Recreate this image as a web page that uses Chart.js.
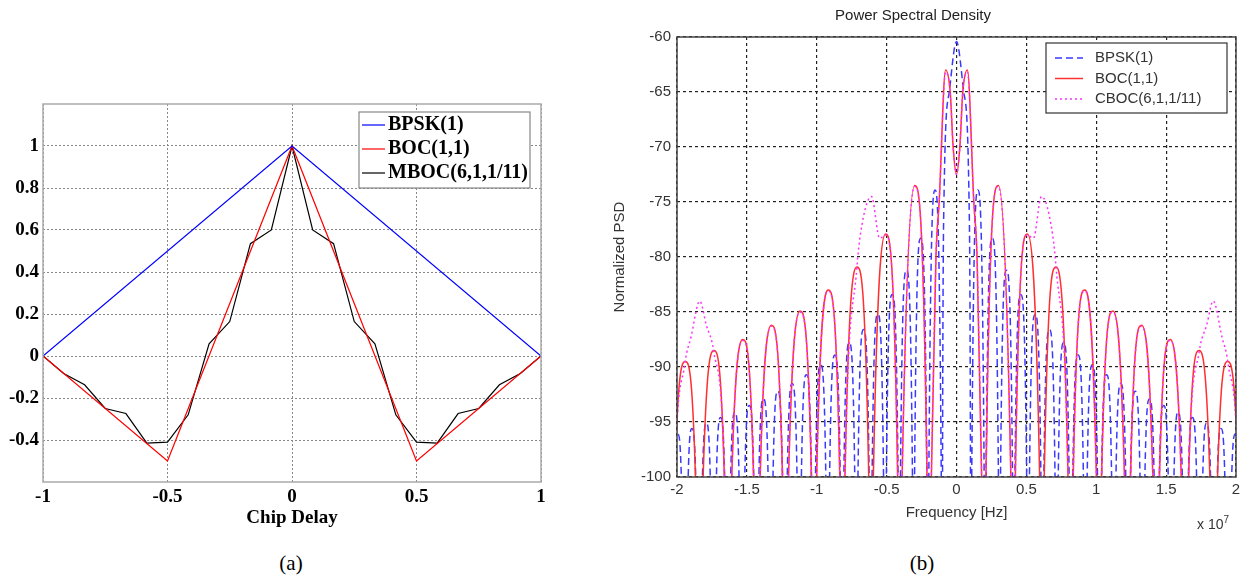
<!DOCTYPE html>
<html>
<head>
<meta charset="utf-8">
<script src="https://cdn.jsdelivr.net/npm/chart.js@4.4.1/dist/chart.umd.min.js"></script>
<style>
  body { margin: 0; background: #fff; width: 1256px; height: 578px; position: relative; overflow: hidden; }
  #acfChart { position: absolute; left: 0; top: 0; }
  #psdChart { position: absolute; left: 590px; top: 0; }
  .caption { position: absolute; top: 551px; width: 60px; text-align: center; line-height: 28px;
             font: 21px "Liberation Serif", "DejaVu Serif", serif; color: #000; }
  #expo { position: absolute; left: 1197px; top: 514px; line-height: 16px;
          font: 14px "Liberation Sans", Arial, sans-serif; color: #333; }
  #expo sup { font-size: 10px; vertical-align: 6px; }
</style>
</head>
<body>
<canvas id="acfChart" width="580" height="540"></canvas>
<canvas id="psdChart" width="666" height="540"></canvas>
<div class="caption" style="left:261px">(a)</div>
<div class="caption" style="left:892px">(b)</div>
<div id="expo">x 10<sup>7</sup></div>

<script>
// ---- (a) autocorrelation ----
const bpskDelay = [-1, 0, 1];
const bpskAcf = [0, 1, 0];

const bocDelay = [-1, -0.5, 0, 0.5, 1];
const bocAcf = [0, -0.5, 1, -0.5, 0];

const mbocDelay = [-1, -0.917, -0.833, -0.75, -0.667, -0.583, -0.5, -0.417, -0.333, -0.25, -0.167, -0.083, 0,
                   0.083, 0.167, 0.25, 0.333, 0.417, 0.5, 0.583, 0.667, 0.75, 0.833, 0.917, 1];
const mbocAcf = [0, -0.083, -0.137, -0.25, -0.274, -0.415, -0.41, -0.28, 0.058, 0.164, 0.535, 0.6, 1,
                 0.6, 0.535, 0.164, 0.058, -0.28, -0.41, -0.415, -0.274, -0.25, -0.137, -0.083, 0];

const acfXTicks = [-1, -0.5, 0, 0.5, 1];
const acfYTicks = [-0.4, -0.2, 0, 0.2, 0.4, 0.6, 0.8, 1];

// ---- (b) power spectral density ----
// positive half only (x in units of 1e7 Hz), mirrored to negative frequencies below.
// each lobe: foot at the axis floor, peak, foot, then the null (below the axis)
const W = -100;  // lobe meets the bottom of the axis
const N = -120;  // null, out of view

const bpskFreq = [
    0, 0.052, 0.090, 0.100, 0.102,
    0.109, 0.153, 0.198, 0.205,
    0.212, 0.256, 0.300, 0.307,
    0.315, 0.358, 0.401, 0.409,
    0.418, 0.460, 0.502, 0.512,
    0.522, 0.563, 0.604, 0.614,
    0.625, 0.665, 0.705, 0.716,
    0.728, 0.767, 0.806, 0.818,
    0.832, 0.870, 0.908, 0.921,
    0.935, 0.972, 1.009, 1.023,
    1.038, 1.074, 1.110, 1.125,
    1.141, 1.176, 1.211, 1.228,
    1.245, 1.279, 1.313, 1.330,
    1.348, 1.381, 1.414, 1.432,
    1.451, 1.483, 1.515, 1.535,
    1.556, 1.586, 1.616, 1.637,
    1.659, 1.688, 1.718, 1.739,
    1.762, 1.790, 1.818, 1.842,
    1.866, 1.893, 1.920, 1.944,
    1.969, 1.995, 2.021, 2.046
];
const bpskLevel = [
    -60.4, -65, -75, W, N,
    W, -73.9, W, N,
    W, -78.3, W, N,
    W, -81.2, W, N,
    W, -83.4, W, N,
    W, -85.2, W, N,
    W, -86.6, W, N,
    W, -87.8, W, N,
    W, -88.9, W, N,
    W, -89.8, W, N,
    W, -90.7, W, N,
    W, -91.5, W, N,
    W, -92.2, W, N,
    W, -92.9, W, N,
    W, -93.5, W, N,
    W, -94.1, W, N,
    W, -94.6, W, N,
    W, -95.1, W, N,
    W, -95.6, W, N,
    W, -96.1, W, N
];

const bocFreq = [
    0, 0.024, 0.045, 0.078, 0.124, 0.147, 0.180, 0.205,
    0.211, 0.300, 0.389, 0.409,
    0.421, 0.508, 0.595, 0.614,
    0.628, 0.713, 0.798, 0.818,
    0.835, 0.918, 1.001, 1.023,
    1.038, 1.120, 1.202, 1.228,
    1.245, 1.325, 1.405, 1.432,
    1.452, 1.530, 1.608, 1.637,
    1.661, 1.737, 1.813, 1.842,
    1.868, 1.942, 2.016, 2.046
];
const bocLevel = [
    -72.5, -70, -65, -63.0, -75, -80, W, N,
    W, -73.5, W, N,
    W, -77.9, W, N,
    W, -80.9, W, N,
    W, -83.0, W, N,
    W, -84.9, W, N,
    W, -86.2, W, N,
    W, -87.5, W, N,
    W, -88.5, W, N,
    W, -89.5, W, N
];

const cbocFreq = [
    0, 0.024, 0.045, 0.078, 0.124, 0.147, 0.180, 0.205,
    0.211, 0.300, 0.389, 0.409,
    0.421, 0.508, 0.550, 0.608, 0.665, 0.713, 0.798, 0.818,
    0.835, 0.918, 1.001, 1.023,
    1.038, 1.120, 1.202, 1.228,
    1.245, 1.325, 1.405, 1.432,
    1.452, 1.530, 1.608, 1.637,
    1.661, 1.737, 1.790, 1.837, 1.900, 1.942, 2.016, 2.046
];
const cbocLevel = [
    -72.5, -70, -65, -63.2, -75, -80, W, N,
    W, -73.6, W, N,
    W, -78.0, -78.3, -74.5, -76.3, -81.0, W, N,
    W, -83.1, W, N,
    W, -85.0, W, N,
    W, -86.3, W, N,
    W, -87.6, W, N,
    W, -88.6, -86.2, -84.0, -87.3, -89.6, W, N
];

const psdXTicks = [-2, -1.5, -1, -0.5, 0, 0.5, 1, 1.5, 2];
const psdYTicks = [-100, -95, -90, -85, -80, -75, -70, -65, -60];

const serif = "'Liberation Serif', 'Times New Roman', serif";
const sans = "'Liberation Sans', Arial, sans-serif";

function toPoints(xs, ys) {
    return xs.map((x, i) => ({ x: x, y: ys[i] }));
}

// spectrum is symmetric: build the full range from the positive half
function mirrored(xs, ys) {
    const pts = [];
    for (let i = xs.length - 1; i > 0; i--) pts.push({ x: -xs[i], y: ys[i] });
    xs.forEach((x, i) => pts.push({ x: x, y: ys[i] }));
    return pts;
}

// box around the plot area, drawn over the data
function framePlugin(color, width) {
    return {
        id: 'frame',
        afterDatasetsDraw(chart) {
            const { ctx, chartArea: a } = chart;
            ctx.save();
            ctx.strokeStyle = color;
            ctx.lineWidth = width;
            ctx.strokeRect(a.left, a.top, a.right - a.left, a.bottom - a.top);
            ctx.restore();
        }
    };
}

// matlab-like boxed legend
function boxLegend(cfg) {
    return {
        id: 'boxLegend',
        afterDraw(chart) {
            const ctx = chart.ctx;
            ctx.save();
            ctx.fillStyle = '#fff';
            ctx.fillRect(cfg.x, cfg.y, cfg.w, cfg.h);
            ctx.strokeStyle = cfg.frame;
            ctx.lineWidth = 1.2;
            ctx.strokeRect(cfg.x, cfg.y, cfg.w, cfg.h);
            ctx.font = cfg.font;
            ctx.textBaseline = 'middle';
            chart.data.datasets.forEach((ds, i) => {
                const y = cfg.y + cfg.firstRow + i * cfg.rowGap;
                ctx.strokeStyle = ds.borderColor;
                ctx.lineWidth = ds.borderWidth;
                ctx.setLineDash(ds.borderDash || []);
                ctx.beginPath();
                ctx.moveTo(cfg.x + cfg.line0, y);
                ctx.lineTo(cfg.x + cfg.line1, y);
                ctx.stroke();
                ctx.setLineDash([]);
                ctx.fillStyle = cfg.color;
                ctx.fillText(ds.label, cfg.x + cfg.textX, y);
            });
            ctx.restore();
        }
    };
}

// ---------- chart (a) ----------
new Chart(document.getElementById('acfChart'), {
    type: 'line',
    data: {
        datasets: [
            { label: 'BPSK(1)', data: toPoints(bpskDelay, bpskAcf), borderColor: '#0000ff', borderWidth: 1.2 },
            { label: 'BOC(1,1)', data: toPoints(bocDelay, bocAcf), borderColor: '#ff0000', borderWidth: 1.2 },
            { label: 'MBOC(6,1,1/11)', data: toPoints(mbocDelay, mbocAcf), borderColor: '#000000', borderWidth: 1.2 }
        ]
    },
    options: {
        responsive: false,
        animation: false,
        layout: { padding: { top: 104, right: 39, bottom: 8, left: 0 } },
        elements: { point: { radius: 0 }, line: { tension: 0 } },
        plugins: { legend: { display: false }, tooltip: { enabled: false } },
        scales: {
            x: {
                type: 'linear', min: -1, max: 1,
                afterBuildTicks: s => { s.ticks = acfXTicks.map(v => ({ value: v })); },
                afterFit: s => { s.height = 50; },
                grid: { color: '#888', lineWidth: 1, drawTicks: false },
                border: { display: false, dash: [2, 2] },
                ticks: { padding: 4, color: '#000', font: { family: serif, size: 19, weight: 'bold' },
                         callback: v => String(v), maxRotation: 0 },
                title: { display: true, text: 'Chip Delay', color: '#000', padding: { top: 0, bottom: 3 },
                         font: { family: serif, size: 19, weight: 'bold' } }
            },
            y: {
                type: 'linear', min: -0.6, max: 1.2,
                afterBuildTicks: s => { s.ticks = acfYTicks.map(v => ({ value: v })); },
                afterFit: s => { s.width = 43; },
                grid: { color: '#888', lineWidth: 1, drawTicks: false },
                border: { display: false, dash: [2, 2] },
                ticks: { padding: 4, color: '#000', font: { family: serif, size: 19, weight: 'bold' },
                         callback: v => String(v) }
            }
        }
    },
    plugins: [
        framePlugin('#aaaaaa', 1.5),
        boxLegend({ x: 359, y: 112, w: 171, h: 76, firstRow: 13, rowGap: 24, line0: 3, line1: 26, textX: 29,
                    font: 'bold 20px ' + serif, color: '#000', frame: '#888' })
    ]
});

// ---------- chart (b) ----------
new Chart(document.getElementById('psdChart'), {
    type: 'line',
    data: {
        datasets: [
            { label: 'BPSK(1)', data: mirrored(bpskFreq, bpskLevel), borderColor: '#3a3aff', borderWidth: 1.5,
              borderDash: [7, 4], order: 3 },
            { label: 'BOC(1,1)', data: mirrored(bocFreq, bocLevel), borderColor: '#ff3030', borderWidth: 1.5,
              order: 2 },
            { label: 'CBOC(6,1,1/11)', data: mirrored(cbocFreq, cbocLevel), borderColor: '#ff30ff', borderWidth: 1.5,
              borderDash: [2, 3], order: 1 }
        ]
    },
    options: {
        responsive: false,
        animation: false,
        layout: { padding: { top: 0, right: 20, bottom: 13, left: 0 } },
        elements: { point: { radius: 0 }, line: { cubicInterpolationMode: 'monotone' } },
        plugins: {
            legend: { display: false },
            tooltip: { enabled: false },
            title: { display: true, text: 'Power Spectral Density', color: '#222',
                     font: { family: sans, size: 15, weight: 'normal' }, padding: { top: 7, bottom: 12 } }
        },
        scales: {
            x: {
                type: 'linear', min: -2, max: 2,
                afterBuildTicks: s => { s.ticks = psdXTicks.map(v => ({ value: v })); },
                afterFit: s => { s.height = 50; },
                grid: { color: '#222', lineWidth: 1.2, drawTicks: false },
                border: { display: false, dash: [3, 3] },
                ticks: { padding: 4, color: '#333', font: { family: sans, size: 15 },
                         callback: v => String(v), maxRotation: 0 },
                title: { display: true, text: 'Frequency [Hz]', color: '#333', padding: { top: 0, bottom: 5 },
                         font: { family: sans, size: 15 } }
            },
            y: {
                type: 'linear', min: -100, max: -60,
                afterBuildTicks: s => { s.ticks = psdYTicks.map(v => ({ value: v })); },
                afterFit: s => { s.width = 87; },
                grid: { color: '#222', lineWidth: 1.2, drawTicks: false },
                border: { display: false, dash: [3, 3] },
                ticks: { padding: 6, color: '#333', font: { family: sans, size: 15 },
                         callback: v => String(v) },
                title: { display: true, text: 'Normalized PSD', color: '#333', padding: { top: 21, bottom: 0 },
                         font: { family: sans, size: 15 } }
            }
        }
    },
    plugins: [
        framePlugin('#444444', 1.5),
        boxLegend({ x: 456, y: 43, w: 181, h: 70, firstRow: 15, rowGap: 20.5, line0: 9, line1: 37, textX: 49,
                    font: '15px ' + sans, color: '#333', frame: '#333' })
    ]
});
</script>
</body>
</html>
